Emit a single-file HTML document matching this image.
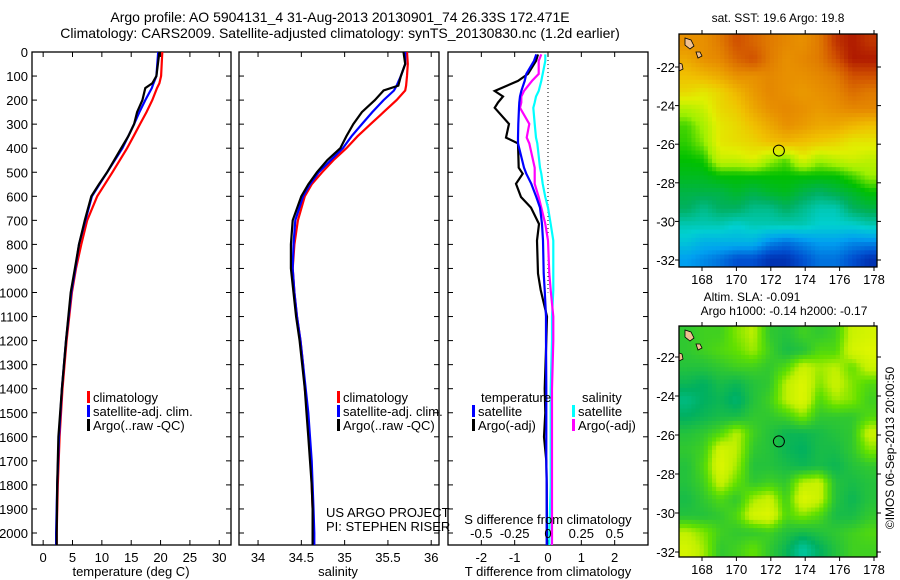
<!DOCTYPE html>
<html><head><meta charset="utf-8"><style>
html,body{margin:0;padding:0;background:#fff;}
svg{display:block;font-family:"Liberation Sans",sans-serif;}
</style></head><body>
<svg id="fig" width="900" height="580" viewBox="0 0 900 580" xmlns="http://www.w3.org/2000/svg">
<text x="340" y="22" font-size="14" text-anchor="middle">Argo profile: AO 5904131_4 31-Aug-2013 20130901_74 26.33S 172.471E</text>
<text x="340" y="38" font-size="14" text-anchor="middle">Climatology: CARS2009. Satellite-adjusted climatology: synTS_20130830.nc (1.2d earlier)</text>
<g id="g"></g>
</svg>
<script>
// ---- data ----
const depthsT = [0,100,130,150,200,250,300,350,400,500,550,600,700,800,900,1000,1200,1400,1600,1800,2000,2060];
const tempClim = [20.3,20.1,19.8,19.4,18.6,17.6,16.5,15.4,14.3,11.8,10.5,9.2,7.5,6.5,5.6,4.9,4.0,3.3,2.8,2.5,2.3,2.3];
const tempSat  = [19.6,19.3,18.8,18.5,17.4,16.4,15.5,14.5,13.5,10.9,9.6,8.3,7.2,6.1,5.5,4.8,3.9,3.2,2.7,2.4,2.2,2.2];
const tempArgo = [19.8,19.3,18.6,17.4,16.9,16.0,15.5,14.5,13.3,10.9,9.5,8.2,7.1,6.1,5.4,4.7,3.9,3.2,2.6,2.4,2.3,2.3];
const depthsS = [0,50,100,140,160,200,250,300,350,400,450,500,550,600,700,800,900,1000,1100,1200,1300,1400,1500,1600,1700,1800,1900,2000,2060];
const salClim = [35.72,35.73,35.72,35.71,35.70,35.60,35.45,35.30,35.15,35.02,34.87,34.74,34.62,34.54,34.46,34.42,34.40,34.42,34.45,34.49,34.52,34.54,34.57,34.59,34.61,34.62,34.63,34.64,34.65];
const salSat  = [35.70,35.70,35.65,35.60,35.57,35.45,35.32,35.20,35.08,34.98,34.84,34.70,34.60,34.52,34.43,34.41,34.40,34.42,34.45,34.49,34.52,34.55,34.58,34.60,34.62,34.63,34.64,34.65,34.65];
const salArgo = [35.68,35.70,35.65,35.62,35.45,35.35,35.20,35.10,35.02,34.95,34.80,34.68,34.58,34.50,34.40,34.38,34.38,34.41,34.44,34.48,34.51,34.54,34.56,34.58,34.60,34.62,34.63,34.63,34.63];
const depthsD = [10,37,91,120,162,185,210,232,299,356,380,481,506,548,603,647,715,784,921,990,1100,1200,1400,1500,1600,1700,1800,2000,2050];
const dTsat  = [-0.35,-0.42,-0.65,-0.70,-0.80,-0.84,-0.86,-0.87,-0.89,-0.90,-0.90,-0.72,-0.65,-0.50,-0.35,-0.24,-0.18,-0.15,-0.13,-0.10,-0.06,-0.06,-0.05,-0.05,-0.05,-0.05,-0.04,-0.04,-0.04];
const dTargo = [-0.30,-0.36,-0.60,-0.90,-1.60,-1.35,-1.50,-1.60,-1.17,-1.26,-0.90,-0.88,-0.76,-0.96,-0.81,-0.51,-0.27,-0.33,-0.30,-0.22,-0.03,-0.05,-0.10,-0.08,-0.12,-0.05,-0.04,-0.03,-0.03];
const dSargo = [-0.05,-0.07,-0.07,-0.12,-0.18,-0.20,-0.20,-0.21,-0.14,-0.16,-0.14,-0.10,-0.10,-0.10,-0.07,-0.05,-0.02,0.00,0.01,0.02,0.04,0.04,0.03,0.03,0.03,0.03,0.03,0.03,0.03];
const dSsat  = [-0.02,-0.02,-0.04,-0.05,-0.07,-0.09,-0.10,-0.11,-0.10,-0.09,-0.08,-0.06,-0.05,-0.04,-0.02,0.00,0.02,0.04,0.04,0.04,0.03,0.03,0.02,0.02,0.02,0.02,0.02,0.01,0.01];
const depthTicks = [0,100,200,300,400,500,600,700,800,900,1000,1100,1200,1300,1400,1500,1600,1700,1800,1900,2000];
const tempTicks = [0,5,10,15,20,25,30];
const salTicks = [34,34.5,35,35.5,36];
const dTTicks = [-2,-1,0,1,2];
const dSTicks = [-0.5,-0.25,0,0.25,0.5];
const lonTicks = [168,170,172,174,176,178];
const latTicks = [-22,-24,-26,-28,-30,-32];
const sstGrid = [
[0.70,0.70,0.75,0.85,0.80,0.75,0.72,0.70,0.75,0.90,0.95,0.90],
[0.65,0.70,0.72,0.80,0.85,0.75,0.70,0.72,0.75,0.85,0.95,0.95],
[0.60,0.62,0.65,0.70,0.70,0.72,0.70,0.70,0.72,0.75,0.85,0.85],
[0.55,0.52,0.56,0.62,0.68,0.72,0.70,0.68,0.70,0.72,0.78,0.75],
[0.44,0.47,0.55,0.58,0.65,0.70,0.72,0.70,0.68,0.70,0.72,0.72],
[0.38,0.43,0.52,0.55,0.60,0.65,0.70,0.68,0.65,0.65,0.62,0.60],
[0.37,0.41,0.52,0.54,0.56,0.60,0.62,0.60,0.58,0.56,0.52,0.52],
[0.35,0.36,0.47,0.47,0.50,0.43,0.39,0.50,0.43,0.46,0.48,0.46],
[0.33,0.33,0.35,0.35,0.35,0.35,0.35,0.35,0.35,0.35,0.38,0.42],
[0.30,0.30,0.30,0.32,0.30,0.32,0.33,0.30,0.28,0.30,0.32,0.35],
[0.28,0.25,0.28,0.28,0.25,0.25,0.28,0.25,0.22,0.22,0.28,0.30],
[0.22,0.22,0.22,0.20,0.22,0.22,0.22,0.22,0.20,0.20,0.20,0.22],
[0.18,0.15,0.15,0.15,0.15,0.10,0.08,0.10,0.12,0.12,0.10,0.10],
[0.12,0.10,0.08,0.05,0.05,0.02,0.02,0.05,0.08,0.08,0.05,0.02]];
const slaGrid = [
[0.50,0.55,0.55,0.70,0.80,0.50,0.45,0.55,0.50,0.55,0.85,0.90],
[0.50,0.55,0.60,0.65,0.75,0.55,0.40,0.45,0.60,0.60,0.90,0.95],
[0.45,0.45,0.50,0.55,0.55,0.50,0.60,0.85,0.75,0.80,0.65,0.85],
[0.35,0.30,0.40,0.35,0.45,0.50,0.80,0.95,0.70,0.85,0.70,0.60],
[0.20,0.30,0.35,0.25,0.45,0.55,0.80,0.95,0.60,0.75,0.70,0.55],
[0.30,0.35,0.40,0.40,0.50,0.50,0.55,0.70,0.50,0.50,0.50,0.60],
[0.45,0.50,0.60,0.80,0.55,0.45,0.35,0.35,0.40,0.45,0.50,0.85],
[0.50,0.55,0.90,0.80,0.50,0.45,0.35,0.30,0.40,0.40,0.50,0.70],
[0.45,0.60,0.95,0.75,0.45,0.45,0.40,0.35,0.40,0.35,0.45,0.50],
[0.45,0.55,0.85,0.65,0.50,0.55,0.50,0.80,0.85,0.45,0.40,0.45],
[0.40,0.50,0.60,0.50,0.75,0.85,0.55,0.95,0.85,0.45,0.35,0.45],
[0.45,0.45,0.50,0.60,0.90,0.95,0.60,0.70,0.60,0.40,0.40,0.50],
[0.80,0.70,0.55,0.50,0.50,0.55,0.45,0.40,0.45,0.50,0.55,0.60],
[0.90,0.75,0.50,0.55,0.65,0.50,0.35,0.10,0.30,0.45,0.55,0.55]];

// ---- drawing ----
const NS='http://www.w3.org/2000/svg';
const root=document.getElementById('g');
function mk(tag,attrs,parent,txt){const e=document.createElementNS(NS,tag);for(const k in attrs)e.setAttribute(k,attrs[k]);if(txt!==undefined)e.textContent=txt;(parent||root).appendChild(e);return e;}
const yTop=52,yBot=545;
const yD=d=>yTop+d*0.2405;
function panel(id,x0,x1,xmin,xmax){
  const sx=v=>x0+(v-xmin)/(xmax-xmin)*(x1-x0);
  const g=mk('g',{});
  
  
  const cp=mk('clipPath',{id:'c'+id},g);mk('rect',{x:x0,y:yTop,width:x1-x0,height:yBot-yTop},cp);
  const frame=mk('rect',{x:x0,y:yTop,width:x1-x0,height:yBot-yTop,fill:'none',stroke:'#000','stroke-width':1.3},g);
  
  
  depthTicks.forEach(d=>{mk('line',{x1:x0,x2:x0+5,y1:yD(d),y2:yD(d),stroke:'#000'},g);mk('line',{x1:x1,x2:x1-5,y1:yD(d),y2:yD(d),stroke:'#000'},g);});
  return {g,sx,clip:'url(#c'+id+')'};
}
function line(p,xs,ds,color,name,w){
  const pts=xs.map((v,i)=>p.sx(v).toFixed(1)+','+yD(ds[i]).toFixed(1)).join(' ');
  const l=mk('polyline',{points:pts,fill:'none',stroke:color,'stroke-width':w||2.2,'clip-path':p.clip},p.g);
  
  
}
function txt(x,y,s,anchor,size,name,parent){const t=mk('text',{x,y,'font-size':size||13,'text-anchor':anchor||'start'},parent||root,s);return t;}
function legend(x,y,color,label,name,parent){mk('rect',{x:x,y:y-11,width:3,height:12,fill:color},parent);txt(x+6,y,label,'start',13,name,parent);}

depthTicks.forEach(d=>txt(28,yD(d)+5,String(d),'end',13,'depth-tick-label'));

// panel 1
const p1=panel('temperature-panel',32,231,-1.9,32);
tempTicks.forEach(v=>{const x=p1.sx(v);mk('line',{x1:x,x2:x,y1:yTop,y2:yTop+5,stroke:'#000'},p1.g);mk('line',{x1:x,x2:x,y1:yBot,y2:yBot-5,stroke:'#000'},p1.g);txt(x,562,String(v),'middle',13,'temp-tick-label',p1.g);});
line(p1,tempClim,depthsT,'#ff0000','temp-climatology-line');
line(p1,tempSat,depthsT,'#0000ff','temp-satellite-line');
line(p1,tempArgo,depthsT,'#000000','temp-argo-line');
legend(87,402,'#ff0000','climatology','legend-climatology',p1.g);
legend(87,416,'#0000ff','satellite-adj. clim.','legend-satellite',p1.g);
legend(87,430,'#000000','Argo(..raw -QC)','legend-argo',p1.g);
txt(131,576,'temperature (deg C)','middle',13,'x-axis-title-temperature',p1.g);

// panel 2
const p2=panel('salinity-panel',239,439,33.78,36.09);
salTicks.forEach(v=>{const x=p2.sx(v);mk('line',{x1:x,x2:x,y1:yTop,y2:yTop+5,stroke:'#000'},p2.g);mk('line',{x1:x,x2:x,y1:yBot,y2:yBot-5,stroke:'#000'},p2.g);txt(x,562,String(v),'middle',13,'sal-tick-label',p2.g);});
line(p2,salClim,depthsS,'#ff0000','sal-climatology-line');
line(p2,salSat,depthsS,'#0000ff','sal-satellite-line');
line(p2,salArgo,depthsS,'#000000','sal-argo-line');
legend(337,402,'#ff0000','climatology','legend-climatology',p2.g);
legend(337,416,'#0000ff','satellite-adj. clim.','legend-satellite',p2.g);
legend(337,430,'#000000','Argo(..raw -QC)','legend-argo',p2.g);
txt(326,517,'US ARGO PROJECT','start',13,'project-credit',p2.g);
txt(326,531,'PI: STEPHEN RISER','start',13,'pi-credit',p2.g);
txt(338,576,'salinity','middle',13,'x-axis-title-salinity',p2.g);

// panel 3
const p3=panel('difference-panel',448,648,-3,3);
const pS={g:p3.g,clip:p3.clip,sx:v=>p3.sx(v*4)};
dTTicks.forEach(v=>{const x=p3.sx(v);mk('line',{x1:x,x2:x,y1:yTop,y2:yTop+5,stroke:'#000'},p3.g);mk('line',{x1:x,x2:x,y1:yBot,y2:yBot-5,stroke:'#000'},p3.g);txt(x,562,String(v),'middle',13,'t-diff-tick-label',p3.g);});
mk('line',{x1:p3.sx(0),x2:p3.sx(0),y1:yTop,y2:yD(1000),stroke:'#000','stroke-dasharray':'1,3'},p3.g);
line(pS,dSsat,depthsD,'#00ffff','s-diff-satellite-line');
line(pS,dSargo,depthsD,'#ff00ff','s-diff-argo-line');
line(p3,dTargo,depthsD,'#000000','t-diff-argo-line');
line(p3,dTsat,depthsD,'#0000ff','t-diff-satellite-line');
txt(481,402,'temperature','start',13,'legend-temperature-header',p3.g);
legend(472,416,'#0000ff','satellite','legend-t-satellite',p3.g);
legend(472,430,'#000000','Argo(-adj)','legend-t-argo',p3.g);
txt(582,402,'salinity','start',13,'legend-salinity-header',p3.g);
legend(572,416,'#00ffff','satellite','legend-s-satellite',p3.g);
legend(572,430,'#ff00ff','Argo(-adj)','legend-s-argo',p3.g);
txt(548,524,'S difference from climatology','middle',13,'s-axis-title',p3.g);
dSTicks.forEach(v=>txt(pS.sx(v),538,String(v),'middle',13,'s-diff-tick-label',p3.g));
txt(548,576,'T difference from climatology','middle',13,'t-axis-title',p3.g);

// maps
const sstStops=[[0,[0,32,160]],[0.05,[0,80,208]],[0.12,[0,160,240]],[0.2,[0,208,208]],[0.28,[0,176,96]],[0.35,[0,192,0]],[0.42,[160,240,0]],[0.5,[224,240,0]],[0.6,[240,192,0]],[0.7,[232,144,0]],[0.85,[208,80,0]],[1,[160,0,0]]];
const slaStops=[[0,[0,208,192]],[0.3,[0,176,96]],[0.5,[48,200,48]],[0.65,[96,224,0]],[0.8,[192,240,0]],[1,[232,248,0]]];
function cmap(stops,v){for(let i=1;i<stops.length;i++){if(v<=stops[i][0]){const a=stops[i-1],b=stops[i],t=(v-a[0])/(b[0]-a[0]);return 'rgb('+a[1].map((c,k)=>Math.round(c+(b[1][k]-c)*t)).join(',')+')';}}return 'rgb('+stops[stops.length-1][1].join(',')+')';}
function sample(grid,fr,fc){const R=grid.length,C=grid[0].length;fr=Math.max(0,Math.min(R-1,fr));fc=Math.max(0,Math.min(C-1,fc));const r0=Math.floor(fr),c0=Math.floor(fc),r1=Math.min(R-1,r0+1),c1=Math.min(C-1,c0+1),tr=fr-r0,tc=fc-c0;return grid[r0][c0]*(1-tr)*(1-tc)+grid[r0][c1]*(1-tr)*tc+grid[r1][c0]*tr*(1-tc)+grid[r1][c1]*tr*tc;}
function map(name,x0,y0,x1,y1,grid,stops,latAt22,latAt32){
  const g=mk('g',{});
  
  
  const sx=lon=>702+(lon-168)*17.2;
  const sy=lat=>latAt22+(-22-lat)*(latAt32-latAt22)/10;
  const rows=grid.length,cols=grid[0].length,F=4,nr=rows*F,nc=cols*F,cw=(x1-x0)/nc,ch=(y1-y0)/nr;
  for(let r=0;r<nr;r++)for(let c=0;c<nc;c++){
    const v=sample(grid,(r+0.5)/F-0.5,(c+0.5)/F-0.5);
    const cell=mk('rect',{x:(x0+c*cw).toFixed(2),y:(y0+r*ch).toFixed(2),width:(cw+0.5).toFixed(2),height:(ch+0.5).toFixed(2),fill:cmap(stops,v)},g);
    
    
  }
  mk('path',{d:`M${x0+6},${y0+4} l6,2 l3,6 l-4,3 l-5,-4 z`,fill:'#f0c090',stroke:'#000','stroke-width':0.8},g);
  mk('path',{d:`M${x0+17},${y0+18} l4,0 l2,4 l-4,2 z`,fill:'#f0c090',stroke:'#000','stroke-width':0.8},g);
  mk('path',{d:`M${x0},${sy(-22)-4} l3,1 l1,5 l-4,2 z`,fill:'#f0c090',stroke:'#000','stroke-width':0.8},g);
  const m=mk('circle',{cx:sx(172.47),cy:sy(-26.33),r:5.5,fill:'none',stroke:'#000','stroke-width':1},g);
  
  
  mk('rect',{x:x0,y:y0,width:x1-x0,height:y1-y0,fill:'none',stroke:'#000','stroke-width':1.3},g);
  lonTicks.forEach(l=>{const x=sx(l);mk('line',{x1:x,x2:x,y1:y1,y2:y1+4,stroke:'#000'},g);mk('line',{x1:x,x2:x,y1:y0,y2:y0-4,stroke:'#000'},g);txt(x,y1+17,String(l),'middle',13,'lon-tick-label',g);});
  latTicks.forEach(l=>{const y=sy(l);mk('line',{x1:x0,x2:x0-4,y1:y,y2:y,stroke:'#000'},g);mk('line',{x1:x1,x2:x1+4,y1:y,y2:y,stroke:'#000'},g);txt(x0-4,y+5,String(l),'end',13,'lat-tick-label',g);});
}
map('sst-map',679,34,877,267,sstGrid,sstStops,67,260);
map('sla-map',679,326,877,557,slaGrid,slaStops,357,552);
txt(778,22,'sat. SST: 19.6 Argo: 19.8','middle',12,'sst-map-title');
txt(752,301,'Altim. SLA: -0.091','middle',12,'sla-map-title');
txt(784,315,'Argo h1000: -0.14 h2000: -0.17','middle',12,'sla-map-subtitle');
const r=txt(0,0,'\u00a9IMOS 06-Sep-2013 20:00:50','middle',12,'imos-timestamp');
r.setAttribute('transform','translate(894,448) rotate(-90)');
</script>
</body></html>
